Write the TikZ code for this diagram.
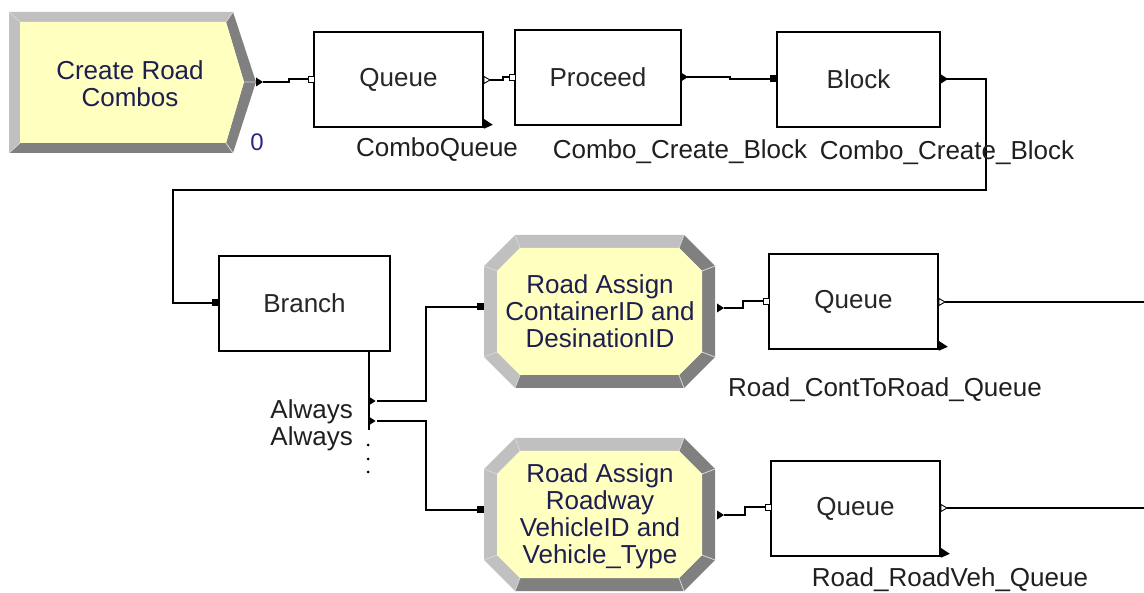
\documentclass[tikz,border=0pt]{standalone}
\usepackage{fontspec}
\setmainfont{Liberation Sans}
\begin{document}
\begin{tikzpicture}[x=1pt,y=-1pt,
  lbl/.style={font=\fontsize{26}{27}\selectfont, text=black!88, inner sep=0pt},
  modbox/.style={draw=black, line width=1.6pt, fill=white, inner sep=0pt,
    minimum height=95pt, font=\fontsize{26}{27}\selectfont, text=black!85},
  bevtext/.style={align=center, inner sep=0pt, font=\fontsize{26}{27}\selectfont, text={rgb,255:red,30;green,30;blue,80}},
  wire/.style={line width=1.4pt, line join=miter},
  outtri/.pic={\fill (0,-4.5) -- (7,0) -- (0,4.5) -- cycle;},
  outtrih/.pic={\draw[line width=0.9pt, fill=white] (0,-3.5) -- (6,0) -- (0,3.5) -- cycle;},
  insq/.pic={\draw[line width=0.9pt, fill=white] (-6,-3) rectangle (0,3);},
  insqb/.pic={\fill (-7,-3.5) rectangle (0,3.5);},
  cornertri/.pic={\fill (0,-9) -- (9,-3) -- (0,1) -- cycle;},
  % bevelled octagon of an Assign module, centred at the pic origin
  assignbody/.pic={
    \fill[bevlight] (-84.5,-76.5) -- (84.5,-76.5) -- (79.5,-63.5) -- (-79.5,-63.5) -- cycle;
    \fill[bevlight] (-115.5,-45.5) -- (-84.5,-76.5) -- (-79.5,-63.5) -- (-102.5,-40.5) -- cycle;
    \fill[bevlight] (-115.5,45.5) -- (-115.5,-45.5) -- (-102.5,-40.5) -- (-102.5,40.5) -- cycle;
    \fill[bevlight] (-84.5,76.5) -- (-115.5,45.5) -- (-102.5,40.5) -- (-79.5,63.5) -- cycle;
    \fill[bevdark] (84.5,76.5) -- (-84.5,76.5) -- (-79.5,63.5) -- (79.5,63.5) -- cycle;
    \fill[bevdark] (115.5,45.5) -- (84.5,76.5) -- (79.5,63.5) -- (102.5,40.5) -- cycle;
    \fill[bevdark] (115.5,-45.5) -- (115.5,45.5) -- (102.5,40.5) -- (102.5,-40.5) -- cycle;
    \fill[bevdark] (84.5,-76.5) -- (115.5,-45.5) -- (102.5,-40.5) -- (79.5,-63.5) -- cycle;
    \draw[bevline] (-84.5,-76.5) -- (-79.5,-63.5) (84.5,-76.5) -- (79.5,-63.5)
      (-115.5,-45.5) -- (-102.5,-40.5) (115.5,-45.5) -- (102.5,-40.5)
      (-115.5,45.5) -- (-102.5,40.5) (115.5,45.5) -- (102.5,40.5)
      (-84.5,76.5) -- (-79.5,63.5) (84.5,76.5) -- (79.5,63.5);
    \fill[bevface] (-79.5,-63.5) -- (79.5,-63.5) -- (102.5,-40.5) -- (102.5,40.5)
      -- (79.5,63.5) -- (-79.5,63.5) -- (-102.5,40.5) -- (-102.5,-40.5) -- cycle;
  },
  bevlight/.style={fill={rgb,255:red,192;green,192;blue,192}},
  bevdark/.style={fill={rgb,255:red,128;green,128;blue,128}},
  bevline/.style={draw={rgb,255:red,215;green,215;blue,215}, line width=0.8pt},
  bevface/.style={fill={rgb,255:red,255;green,255;blue,192}}
]
\useasboundingbox (0,0) rectangle (1144,593);

% ---------- Create module (chevron with bevel) ----------
\fill[bevlight] (9,12) -- (233,12) -- (226,22) -- (20,22) -- cycle;
\fill[bevlight] (9,153) -- (9,12) -- (20,22) -- (20,143) -- cycle;
\fill[bevdark] (233,12) -- (256,82) -- (244,82) -- (226,22) -- cycle;
\fill[bevdark] (256,82) -- (233,153) -- (226,143) -- (244,82) -- cycle;
\fill[bevdark] (233,153) -- (9,153) -- (20,143) -- (226,143) -- cycle;
\draw[bevline] (9,12) -- (20,22) (233,12) -- (226,22) (256,82) -- (244,82)
  (233,153) -- (226,143) (9,153) -- (20,143);
\fill[bevface] (20,22) -- (226,22) -- (244,82) -- (226,143) -- (20,143) -- cycle;
\node[bevtext] (create) at (130,84) {Create Road\\Combos};
\node[font=\fontsize{24}{26}\selectfont, text={rgb,255:red,40;green,40;blue,130}, inner sep=0pt] (cnt) at (257,142) {0};

% ---------- Assign modules ----------
\pic at (599.5,311.5) {assignbody};
\pic at (599.5,514.5) {assignbody};
\node[bevtext] (asg1) at (600,311) {Road Assign\\ContainerID and\\DesinationID};
\node[bevtext] (asg2) at (600,516) {Road Assign\\Roadway\\VehicleID and\\Vehicle\_Type};

% ---------- plain modules ----------
\node[modbox, minimum width=169pt] (q1) at (398.5,79.5) {Queue};
\node[modbox, minimum width=166pt] (proc) at (598,77.5) {Proceed};
\node[modbox, minimum width=163pt] (blk) at (858.5,79.5) {Block};
\node[modbox, minimum width=171pt] (br) at (304.5,303.5) {Branch};
\node[modbox, minimum width=169pt] (q2) at (853.5,301.5) {Queue};
\node[modbox, minimum width=169pt] (q3) at (855.5,508.5) {Queue};

% ---------- module labels ----------
\node[lbl] (lq1) at (437,150) {ComboQueue};
\node[lbl] (lproc) at (680,152) {Combo\_Create\_Block};
\node[lbl] (lq2) at (885,390) {Road\_ContToRoad\_Queue};
\node[lbl] (lq3) at (950,580) {Road\_RoadVeh\_Queue};
\node[lbl, anchor=east] (al1) at (353,412) {Always};
\node[lbl, anchor=east] (al2) at (353,439) {Always};

% ---------- port points ----------
\coordinate (crOut) at (263,82);
\coordinate (q1In) at (308,79);
\coordinate (q1Out) at (490,80);
\coordinate (procIn) at (509,77);
\coordinate (procOut) at (687,77);
\coordinate (blkIn) at (770,79);
\coordinate (blkOut) at (947,79);
\coordinate (brIn) at (212,303);
\coordinate (brStem) at (369,351);
\coordinate (brStemEnd) at (369,430);
\coordinate (brOutA) at (377,401);
\coordinate (brOutB) at (377,421);
\coordinate (a1In) at (477,307);
\coordinate (a2In) at (477,510);
\coordinate (a1Out) at (724,308);
\coordinate (a2Out) at (724,515);
\coordinate (q2In) at (763,301);
\coordinate (q3In) at (765,507);
\coordinate (q2Out) at (945,302);
\coordinate (q3Out) at (947,508);
\coordinate (q2Far) at (1144,302);
\coordinate (q3Far) at (1144,508);

% ---------- connectors ----------
\draw[wire] (crOut) -- ++(26,0) |- (q1In);
\draw[wire] (q1Out) -- ++(13,0) |- (procIn);
\draw[wire] (procOut) -- ++(43,0) |- (blkIn);
\draw[wire] (blkOut) -- ++(39,0) -- ++(0,111) -| (173,303) -- (brIn);
\draw[wire] (brStem) -- (brStemEnd);
\draw[wire] (brOutA) -| (426,307) -- (a1In);
\draw[wire] (brOutB) -| (426,510) -- (a2In);
\draw[wire] (a1Out) -- ++(19,0) |- (q2In);
\draw[wire] (a2Out) -- ++(21,0) |- (q3In);
\draw[wire] (q2Out) -- (q2Far);
\draw[wire] (q3Out) -- (q3Far);

% ---------- port markers ----------
\pic at (256,82) {outtri};
\pic at (314,79) {insq};
\pic at (484,80) {outtrih};
\pic at (515,77) {insq};
\pic at (681,77) {outtri};
\pic at (777,79) {insqb};
\pic at (941,79) {outtri};
\pic at (219,303) {insqb};
\pic at (484,307) {insqb};
\pic at (484,510) {insqb};
\pic at (717,308) {outtri};
\pic at (717,515) {outtri};
\pic at (769,301) {insq};
\pic at (771,507) {insq};
\pic at (939,302) {outtrih};
\pic at (941,508) {outtrih};
\pic at (q1.south east) {cornertri};
\pic at (q2.south east) {cornertri};
\pic at (q3.south east) {cornertri};
\pic[scale=0.8] at (370,401) {outtri};
\pic[scale=0.8] at (370,421) {outtri};
\fill (368,445) circle (1.5) (368,459) circle (1.5) (368,472) circle (1.5);

% label of the Block module, written over its outgoing connector
\node[lbl] (lblk) at (947,153) {Combo\_Create\_Block};
\end{tikzpicture}
\end{document}
